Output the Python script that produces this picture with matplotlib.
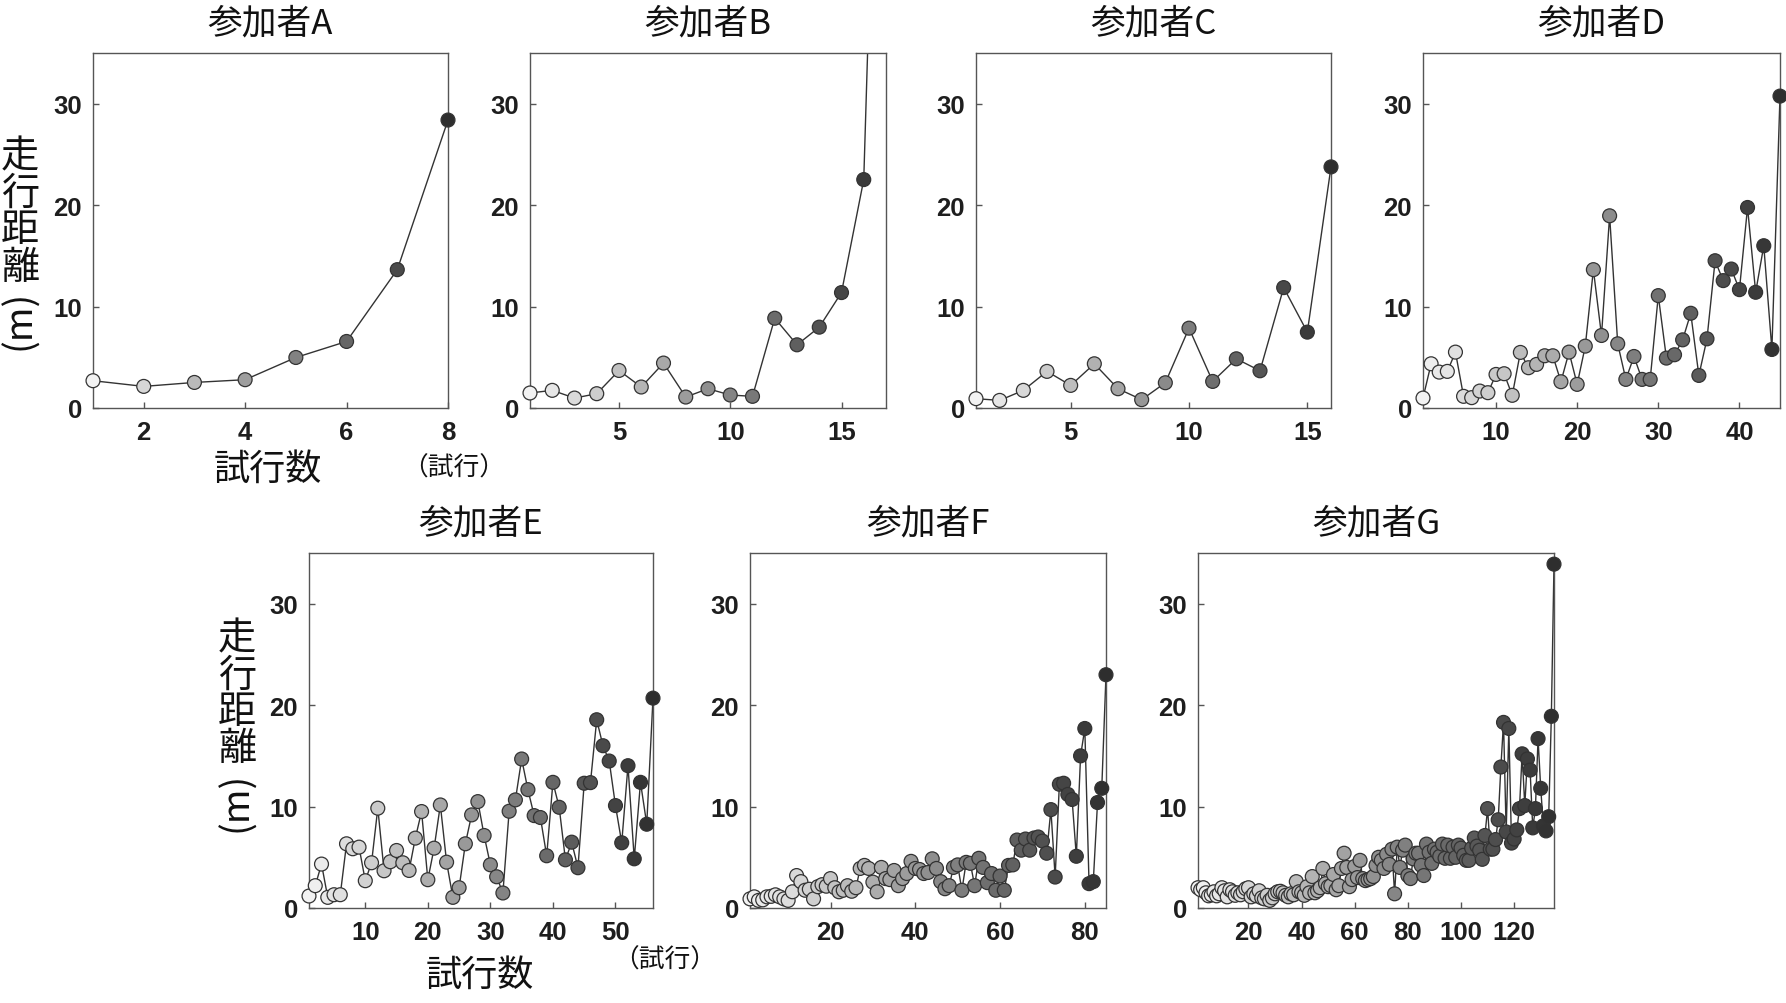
import matplotlib
matplotlib.use("Agg")
import matplotlib.pyplot as plt
import numpy as np

plt.rcParams['font.family'] = ['Noto Sans CJK JP', 'DejaVu Sans']

# ---------------- data ----------------
titles = ["参加者A", "参加者B", "参加者C", "参加者D", "参加者E", "参加者F", "参加者G"]

dist_A = [2.69, 2.13, 2.52, 2.79, 4.98, 6.56, 13.64, 28.39]

dist_B = [1.48, 1.74, 0.98, 1.41, 3.70, 2.07, 4.43, 1.08, 1.90, 1.28, 1.15,
          8.85, 6.23, 7.97, 11.38, 22.52, 95.0]

dist_C = [0.92, 0.75, 1.74, 3.61, 2.23, 4.36, 1.90, 0.82, 2.49, 7.87, 2.62,
          4.85, 3.67, 11.87, 7.48, 23.77]

dist_D = [0.98, 4.36, 3.54, 3.61, 5.51, 1.15, 1.02, 1.67, 1.51, 3.31,
          3.38, 1.25, 5.48, 3.97, 4.30, 5.15, 5.15, 2.59, 5.51, 2.33,
          6.10, 13.64, 7.15, 18.95, 6.33, 2.82, 5.08, 2.82, 2.82, 11.08,
          4.92, 5.25, 6.72, 9.34, 3.21, 6.82, 14.52, 12.56, 13.70, 11.67,
          19.77, 11.41, 16.00, 5.77, 30.75]

dist_E = [1.18, 2.20, 4.33, 1.05, 1.31, 1.31, 6.33, 5.84, 6.00, 2.69,
          4.46, 9.84, 3.67, 4.56, 5.67, 4.46, 3.70, 6.89, 9.51, 2.79,
          5.90, 10.16, 4.52, 1.05, 2.00, 6.33, 9.18, 10.49, 7.15, 4.26,
          3.08, 1.48, 9.54, 10.66, 14.69, 11.67, 9.11, 8.92, 5.15, 12.39,
          9.93, 4.75, 6.49, 3.97, 12.30, 12.36, 18.56, 16.00, 14.49, 10.10,
          6.43, 14.03, 4.85, 12.39, 8.26, 20.69]

dist_F = [0.90, 1.10, 0.75, 0.80, 1.10, 1.15, 1.30, 1.10, 0.90, 0.75,
          1.60, 3.20, 2.60, 1.75, 1.85, 0.90, 2.10, 2.30, 2.15, 2.90,
          2.00, 1.60, 1.75, 2.20, 1.65, 2.00, 3.90, 4.20, 3.90, 2.55,
          1.60, 4.00, 2.90, 2.80, 3.70, 2.20, 2.90, 3.40, 4.60, 3.90,
          3.80, 3.40, 3.50, 4.85, 3.90, 2.60, 1.90, 2.20, 4.00, 4.25,
          1.75, 4.50, 4.40, 2.20, 4.90, 4.00, 2.50, 3.40, 1.75, 3.15,
          1.75, 4.20, 4.25, 6.70, 5.70, 6.80, 5.70, 6.90, 7.00, 6.60,
          5.40, 9.70, 3.05, 12.20, 12.30, 11.20, 10.70, 5.10, 15.00, 17.70,
          2.40, 2.60, 10.40, 11.80, 23.00]

dist_G = [2.0, 1.8, 2.0, 1.5, 1.2, 1.3, 1.6, 1.2, 1.4, 2.0,
          1.7, 1.1, 1.8, 1.6, 1.25, 1.5, 1.3, 1.6, 1.9, 2.0,
          1.1, 1.4, 1.2, 1.7, 1.0, 0.9, 1.25, 0.75, 1.0, 1.4,
          1.6, 1.65, 1.5, 1.25, 1.1, 1.4, 1.3, 2.6, 1.6, 1.5,
          1.25, 2.1, 1.5, 3.1, 1.5, 1.7, 2.0, 3.9, 2.4, 2.1,
          2.2, 3.3, 1.8, 2.2, 3.9, 5.4, 4.0, 2.1, 2.8, 4.1,
          3.0, 4.7, 2.9, 2.7, 2.8, 2.9, 3.1, 4.2, 5.0, 4.7,
          3.9, 5.3, 4.3, 5.8, 1.4, 6.0, 4.0, 5.7, 6.2, 3.2,
          2.9, 4.85, 5.4, 5.4, 4.2, 3.2, 6.3, 5.5, 4.4, 5.8,
          5.5, 5.1, 6.3, 4.9, 6.2, 4.9, 6.0, 5.0, 6.2, 5.9,
          5.2, 4.7, 4.7, 5.9, 6.9, 6.1, 5.7, 4.8, 7.15, 9.8,
          5.8, 5.8, 6.75, 8.7, 13.9, 18.3, 7.5, 17.7, 6.4, 6.8,
          7.7, 9.8, 15.2, 10.1, 14.7, 13.6, 7.9, 9.8, 16.7, 11.8,
          8.1, 7.6, 9.0, 18.9, 33.9]

all_data = [dist_A, dist_B, dist_C, dist_D, dist_E, dist_F, dist_G]

xticks_list = [[2, 4, 6, 8], [5, 10, 15], [5, 10, 15], [10, 20, 30, 40],
               [10, 20, 30, 40, 50], [20, 40, 60, 80], [20, 40, 60, 80, 100, 120]]
yticks = [0, 10, 20, 30]
ylim_max = 35

ylabel_chars = ["走", "行", "距", "離"]
ylabel_unit = "(m)"
xlabel_text = "試行数"
xunit_text = "（試行）"

# ---------------- layout (pixels) ----------------
W, H = 1786, 1004
fig = plt.figure(figsize=(W / 100, H / 100), dpi=100)

# left, right, top, bottom in pixels
boxes = [(93, 448, 54, 409), (530, 886, 54, 409), (976, 1331, 54, 409),
         (1423, 1780, 54, 409),
         (309, 653, 554, 909), (750, 1106, 554, 909), (1198, 1554, 554, 909)]

tick_kw = dict(fontfamily='Liberation Sans', fontweight='bold', fontsize=18.5,
               color='#1e1e1e')
line_col = '#333333'

for i, (data, (l, r, t, b)) in enumerate(zip(all_data, boxes)):
    ax = fig.add_axes([l / W, 1 - b / H, (r - l) / W, (b - t) / H])
    y = np.asarray(data, dtype=float)
    n = len(y)
    x = np.arange(1, n + 1)
    greys = np.linspace(0.95, 0.18, n)
    colors = [(g, g, g) for g in greys]
    ax.plot(x, y, color=line_col, lw=1.0, zorder=2)
    vis = y <= ylim_max
    ax.scatter(x[vis], y[vis], s=100, c=[c for c, v in zip(colors, vis) if v],
               edgecolors=line_col, linewidths=0.9, zorder=3, clip_on=False)
    ax.set_xlim(1, n)
    ax.set_ylim(0, ylim_max)
    ax.set_xticks(xticks_list[i], labels=[str(v) for v in xticks_list[i]], **tick_kw)
    ax.set_yticks(yticks, labels=[str(v) for v in yticks], **tick_kw)
    ax.tick_params(direction='in', length=4, width=1, color='#555555', pad=8)
    ax.tick_params(axis='x', pad=9)
    for sp in ax.spines.values():
        sp.set_color('#555555')
        sp.set_linewidth(1.0)
    ax.set_title(titles[i], fontsize=25, pad=15, color='#111111')


def vlabel(xc, ytop):
    pitch = 37
    for k, ch in enumerate(ylabel_chars):
        yc = ytop + k * pitch
        fig.text(xc / W, 1 - yc / H, ch, fontsize=27.5, ha='center', va='center',
                 color='#111111')
    yc = ytop + 3 * pitch + 52
    fig.text(xc / W, 1 - yc / H, ylabel_unit, fontsize=27, rotation=90,
             ha='center', va='center', color='#111111')


vlabel(20, 157)
vlabel(237, 639)

fig.text(268 / W, 1 - 470 / H, xlabel_text, fontsize=26, ha='center', va='center',
         color='#111111')
fig.text(454 / W, 1 - 469 / H, xunit_text, fontsize=18.5, ha='center', va='center',
         color='#111111')
fig.text(480 / W, 1 - 976 / H, xlabel_text, fontsize=26, ha='center', va='center',
         color='#111111')
fig.text(665 / W, 1 - 961 / H, xunit_text, fontsize=18.5, ha='center', va='center',
         color='#111111')

fig.savefig("out.png", dpi=100, facecolor='white')
